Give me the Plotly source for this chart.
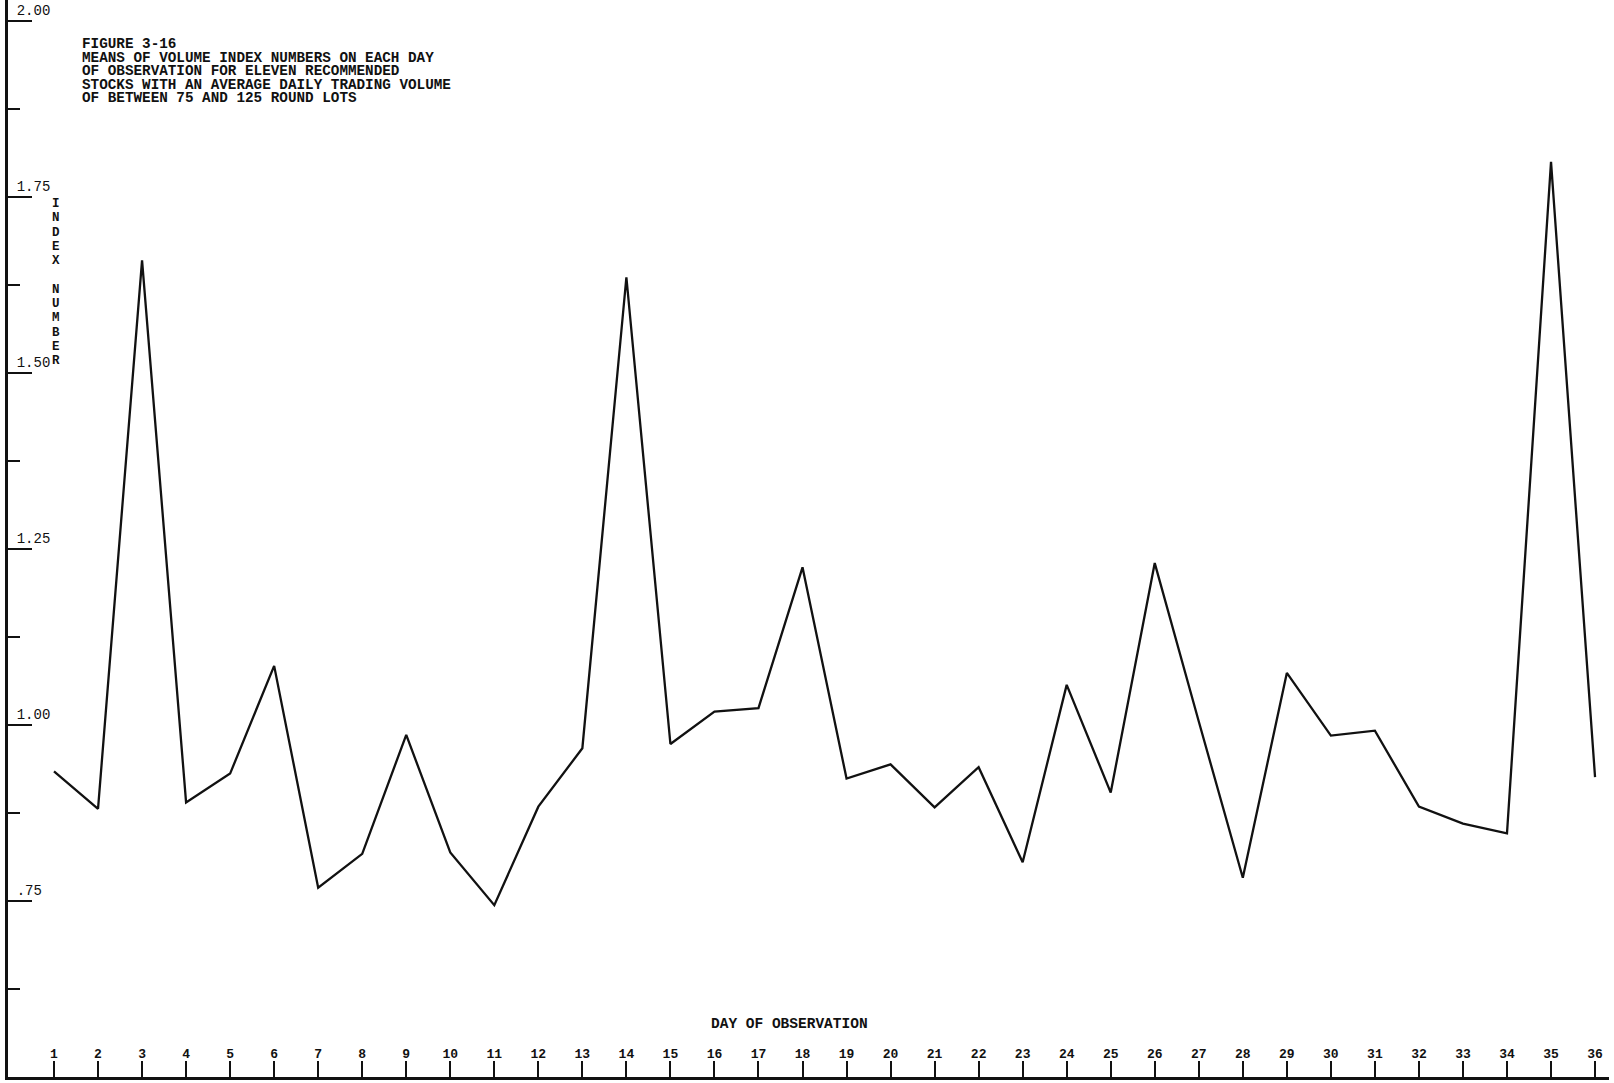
import plotly.graph_objects as go

# ---- data ----
days = list(range(1, 37))
index_means = [0.934, 0.881, 1.660, 0.890, 0.931, 1.084, 0.769, 0.817, 0.986, 0.819,
               0.744, 0.884, 0.967, 1.636, 0.973, 1.019, 1.024, 1.224, 0.924, 0.944,
               0.883, 0.940, 0.805, 1.057, 0.904, 1.230, 1.005, 0.783, 1.074, 0.985,
               0.992, 0.884, 0.860, 0.846, 1.800, 0.926]
y_tickvals = [0.75, 1.00, 1.25, 1.50, 1.75, 2.00]
y_ticktext = [".75", "1.00", "1.25", "1.50", "1.75", "2.00"]
x_tickvals = days
x_ticktext = [str(d) for d in days]
title_lines = [
    "FIGURE 3-16",
    "MEANS OF VOLUME INDEX NUMBERS ON EACH DAY",
    "OF OBSERVATION FOR ELEVEN RECOMMENDED",
    "STOCKS WITH AN AVERAGE DAILY TRADING VOLUME",
    "OF BETWEEN 75 AND 125 ROUND LOTS",
]
y_title = "INDEX NUMBER"
x_title = "DAY OF OBSERVATION"

# ---- layout geometry ----
W, H = 1614, 1083
ML, MR, MT, MB = 8, 5, 0, 6
PW, PH = W - ML - MR, H - MT - MB
FONT = "Liberation Mono"
INK = "#111111"
PX_PER_UNIT = 704.0
Y_TOP = 0.5 + PH / PX_PER_UNIT
PX_PER_DAY = 44.03
X_LEFT = 1 - (54 - ML) / PX_PER_DAY
X_RIGHT = X_LEFT + PW / PX_PER_DAY


def px(xp):
    return (xp - ML) / PW


def py(yp):
    return (H - MB - yp) / PH


fig = go.Figure()
fig.add_trace(go.Scatter(x=days, y=index_means, mode="lines",
                         line=dict(color=INK, width=2.3), hoverinfo="x+y",
                         showlegend=False))

annotations = []
for i, line in enumerate(title_lines):
    annotations.append(dict(text=line, xref="paper", yref="paper",
                            x=px(80), y=py(44 + 13.5 * i), xanchor="left", yanchor="middle",
                            showarrow=False, font=dict(family=FONT, size=14.3, color=INK,
                                                       weight="bold")))

# vertical stacked axis title, one letter per row
for i, ch in enumerate(y_title):
    if ch == " ":
        continue
    annotations.append(dict(text=ch, xref="paper", yref="paper", x=px(56),
                            y=py(204 + 14.3 * i), xanchor="center", yanchor="middle",
                            showarrow=False,
                            font=dict(family=FONT, size=12.5, color=INK, weight="bold")))

annotations.append(dict(text=x_title, xref="paper", yref="paper", x=px(789), y=py(1024),
                        xanchor="center", yanchor="middle", showarrow=False,
                        font=dict(family=FONT, size=14.5, color=INK, weight="bold")))

fig.update_layout(
    width=W, height=H,
    margin=dict(l=ML, r=MR, t=MT, b=MB, pad=0),
    paper_bgcolor="white", plot_bgcolor="white",
    annotations=annotations,
    xaxis=dict(range=[X_LEFT, X_RIGHT], tickmode="array", tickvals=x_tickvals,
               ticktext=x_ticktext, ticks="inside", ticklen=16, tickwidth=2,
               tickcolor=INK, ticklabelposition="inside",
               tickfont=dict(family=FONT, size=13, color=INK, weight="bold"),
               showline=True, linecolor=INK, linewidth=2.5, showgrid=False,
               zeroline=False, fixedrange=True),
    yaxis=dict(range=[0.5, Y_TOP], tickmode="array", tickvals=y_tickvals,
               ticktext=y_ticktext, ticks="inside", ticklen=24, tickwidth=2,
               tickcolor=INK, ticklabelposition="inside top", ticklabelstandoff=7,
               tickfont=dict(family=FONT, size=14, color=INK),
               minor=dict(tickmode="linear", tick0=0.625, dtick=0.25, ticks="inside",
                          ticklen=12, tickwidth=2, tickcolor=INK),
               showline=True, linecolor=INK, linewidth=3, showgrid=False,
               zeroline=False, fixedrange=True),
)

fig.write_html("out.html", config={"displayModeBar": False},
               post_script="document.body.style.margin='0';")
